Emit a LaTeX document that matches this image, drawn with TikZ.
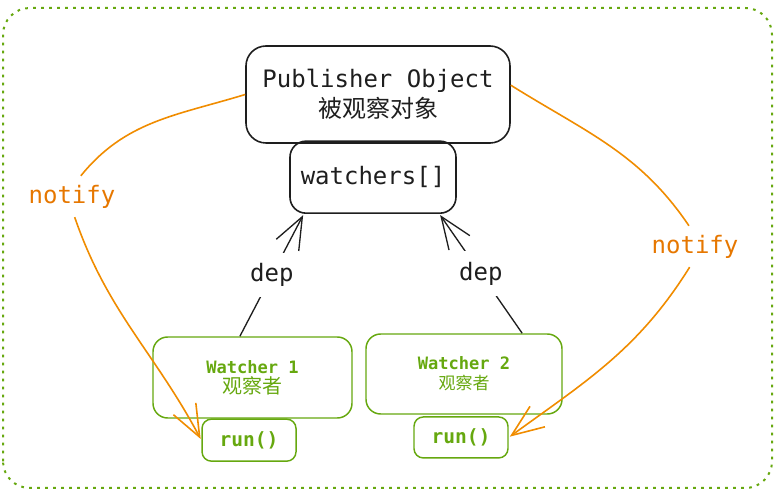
\documentclass[tikz,border=0pt]{standalone}
\usepackage{fontspec}
\setmonofont{DejaVu Sans Mono}
\newfontfamily\cjk{Noto Sans CJK SC}
\usetikzlibrary{arrows.meta,positioning}
\definecolor{ink}{HTML}{1E1E1E}
\definecolor{leaf}{HTML}{66A80F}
\definecolor{tang}{HTML}{F08C00}
\definecolor{tangtext}{HTML}{E67700}

\begin{document}
\begin{tikzpicture}[->,>={Straight Barb[length=24pt,width=19pt]},shorten >=1pt,x=0.75pt,y=0.75pt,thick,
    pub node/.style={draw=ink,line width=1.2pt,rounded corners=15pt,align=center,inner sep=0pt,text=ink,font=\ttfamily\fontsize{18}{22.5}\selectfont},
    watch node/.style={draw=leaf,line width=1.1pt,rounded corners=11pt,align=center,inner sep=0pt,text=leaf,font=\ttfamily\bfseries\fontsize{12.8}{15}\selectfont},
    run node/.style={watch node,rounded corners=7pt,minimum width=70.5pt,font=\ttfamily\bfseries\fontsize{14.7}{17}\selectfont},
    tag node/.style={inner sep=6pt,font=\ttfamily\fontsize{18}{22}\selectfont}]
                \useasboundingbox (0,0) rectangle (776,493);
                \draw[-,leaf,line width=1.5pt,dash pattern=on 2pt off 4pt,rounded corners=20pt] (3,5) rectangle (772,485);

                \node[pub node,minimum width=198pt,minimum height=72.75pt] (pub) at (378,398.5) {Publisher Object\\{\cjk 被观察对象}};
                \node[pub node,rounded corners=12pt,minimum width=124.5pt,minimum height=54pt] (list) [below of=pub,node distance=62pt,xshift=-3.75pt] {watchers[]};
                \node[watch node,minimum width=149.25pt,minimum height=60.75pt] (w1) at (252.5,115.5) {Watcher 1\\{\cjk\mdseries\fontsize{15}{15}\selectfont 观察者}};
                \node[watch node,minimum width=147pt,minimum height=60pt] (w2) at (464,119) {Watcher 2\\{\cjk\mdseries\fontsize{12.75}{15}\selectfont 观察者}};
                \node[run node,minimum height=31.5pt] (r1) [below of=w1,node distance=47pt,xshift=-2.6pt] {run()};
                \node[run node,minimum height=30.75pt] (r2) [below of=w2,node distance=47.6pt,xshift=-2.25pt] {run()};
                \node[tag node,text=tangtext] (nl) at (72,296) {notify};
                \node[tag node,text=tangtext] (nr) at (695,246) {notify};

                \path[ink,line width=1pt,every node/.style={tag node,fill=white,inner sep=8pt,text=ink}]
                    (w1.107) edge node {dep} (list.208)
                    (w2.35.5) edge node {dep} (list.331)
                    ;
                \path[tang,line width=1.2pt]
                    (pub.west) edge[-,out=197,in=51] ([xshift=6pt]nl.north)
                    ([xshift=2pt]nl.south) edge[out=-71,in=118] (r1.west)
                    (pub.4) edge[-,out=-32,in=124] ([xshift=-4pt]nr.north)
                    ([xshift=-4pt]nr.south) edge[out=238,in=36] (r2.east)
                    ;
\end{tikzpicture}
\end{document}
